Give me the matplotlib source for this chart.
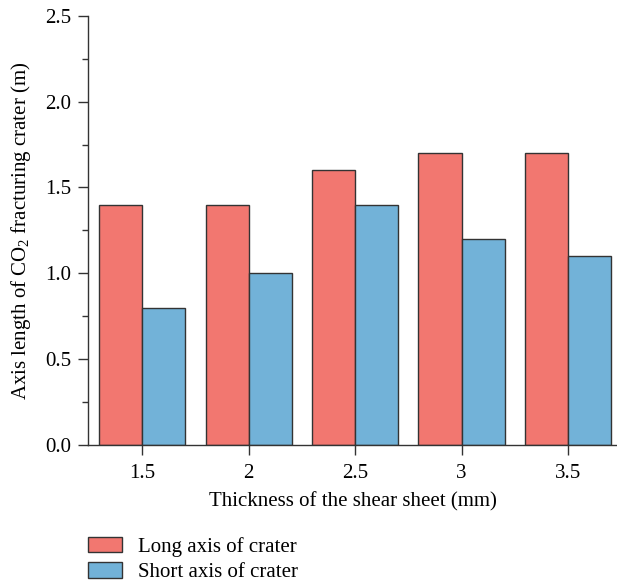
import numpy as np
import matplotlib
matplotlib.use('Agg')
import matplotlib.pyplot as plt
from matplotlib.ticker import MultipleLocator

plt.rcParams['font.family'] = ['Liberation Serif', 'DejaVu Serif']
plt.rcParams['mathtext.fontset'] = 'custom'
plt.rcParams['mathtext.rm'] = 'Liberation Serif'

thickness = ['1.5', '2', '2.5', '3', '3.5']
long_axis = [1.4, 1.4, 1.6, 1.7, 1.7]
short_axis = [0.8, 1.0, 1.4, 1.2, 1.1]

red = '#F27770'
blue = '#72B2D8'
edge = '#333333'

fig = plt.figure(figsize=(6.17, 5.84), dpi=100)
ax = fig.add_axes([0.1426, 0.238, 0.8574, 0.735])

x = np.arange(len(thickness))
w = 0.405
ax.bar(x - w / 2, long_axis, w, color=red, edgecolor=edge, linewidth=1.0, label='Long axis of crater')
ax.bar(x + w / 2, short_axis, w, color=blue, edgecolor=edge, linewidth=1.0, label='Short axis of crater')

ax.set_xlim(-0.51, 4.46)
ax.set_ylim(0, 2.5)
ax.set_xticks(x)
ax.set_xticklabels(thickness)
ax.yaxis.set_major_locator(MultipleLocator(0.5))
ax.yaxis.set_minor_locator(MultipleLocator(0.25))
ax.yaxis.set_major_formatter(matplotlib.ticker.FormatStrFormatter('%.1f'))

for s in ['top', 'right']:
    ax.spines[s].set_visible(False)
for s in ['left', 'bottom']:
    ax.spines[s].set_color(edge)
    ax.spines[s].set_linewidth(1.0)

fs = 15
ax.tick_params(axis='both', which='major', direction='out', length=7, width=1.0,
               color=edge, labelsize=fs, pad=5)
ax.tick_params(axis='y', which='minor', direction='out', length=4, width=1.0, color=edge)
ax.tick_params(axis='x', pad=7)

ax.set_xlabel('Thickness of the shear sheet (mm)', fontsize=fs, labelpad=6)
ax.set_ylabel('Axis length of CO$_2$ fracturing crater (m)', fontsize=fs, labelpad=9)

fig.legend(loc='upper left', bbox_to_anchor=(0.129, 0.095), frameon=False, fontsize=fs,
           handlelength=1.63, handleheight=0.77, handletextpad=0.77, labelspacing=0.25,
           borderaxespad=0)

fig.savefig('out.png', dpi=100)
